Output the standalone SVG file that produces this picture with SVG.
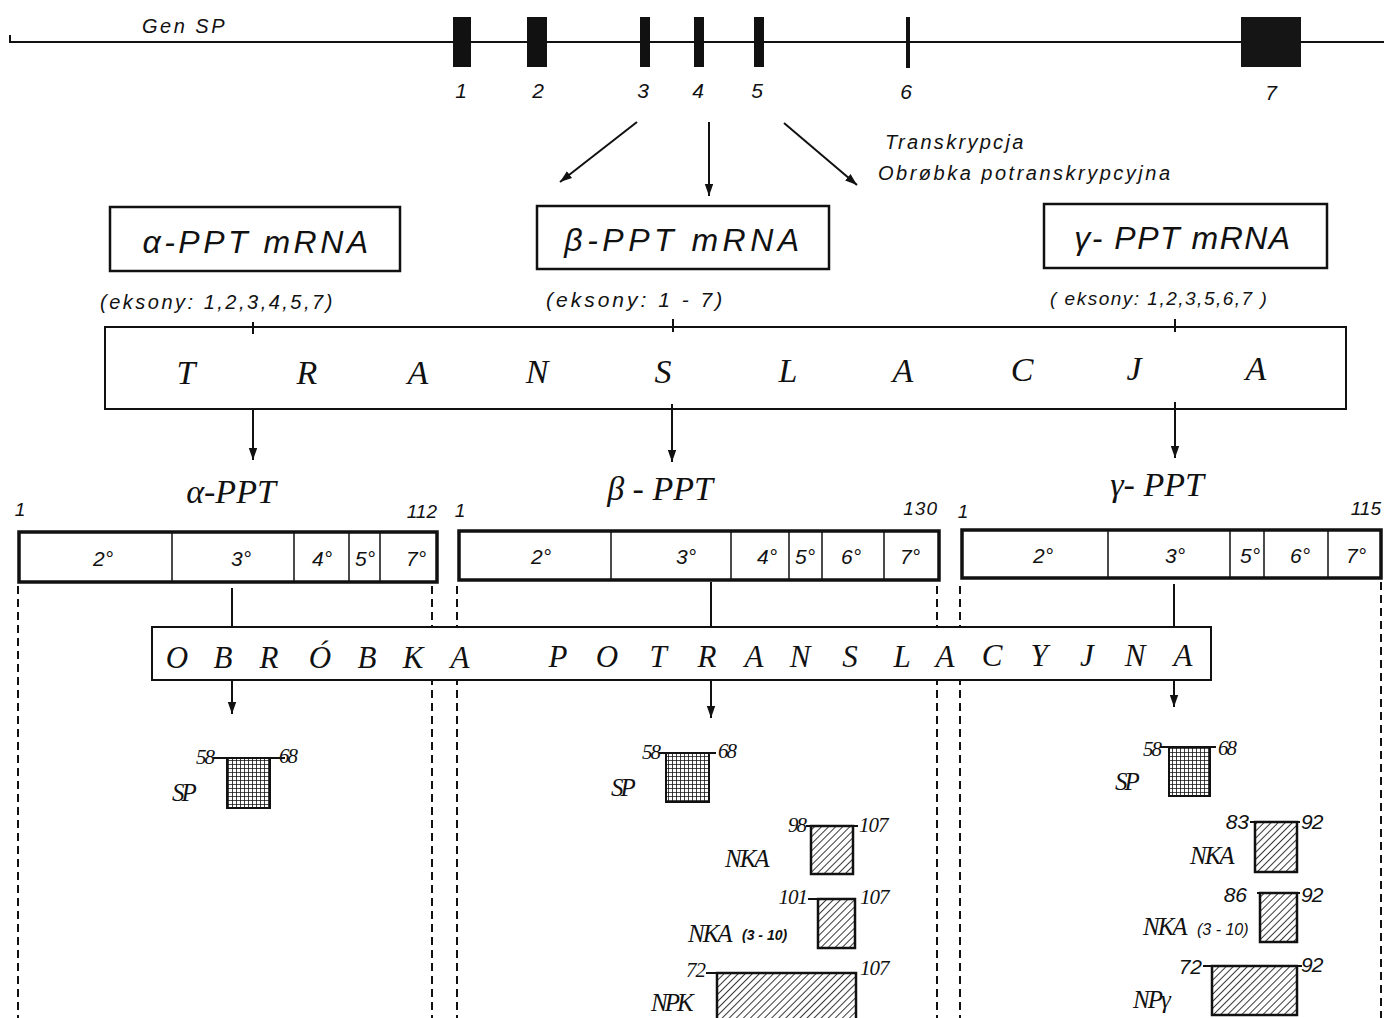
<svg xmlns="http://www.w3.org/2000/svg" width="1384" height="1018" viewBox="0 0 1384 1018">
<defs>
<style>
.ln{stroke:#111;stroke-width:2;fill:none}
.box{stroke:#111;stroke-width:2.5;fill:#fff}
.bar{stroke:#111;stroke-width:3.5;fill:#fff}
.div{stroke:#111;stroke-width:1.5}
.dash{stroke:#111;stroke-width:2;stroke-dasharray:8 5;fill:none}
.ex{fill:#111}
.s{font-family:"Liberation Sans",Arial,sans-serif;font-style:italic;fill:#111}
.r{font-family:"Liberation Serif","Times New Roman",serif;font-style:italic;fill:#111}
</style>
<marker id="ah" viewBox="0 0 10 10" refX="10" refY="5" markerWidth="12" markerHeight="12" markerUnits="userSpaceOnUse" orient="auto">
<path d="M0,1.5 L10,5 L0,8.5 Z" fill="#111"/>
</marker>
<pattern id="grid" width="4" height="4" patternUnits="userSpaceOnUse">
<rect width="4" height="4" fill="#fff"/>
<path d="M0,0 H4 M0,0 V4" stroke="#111" stroke-width="1.6"/>
</pattern>
<pattern id="hatch" width="5" height="5" patternUnits="userSpaceOnUse" patternTransform="rotate(45)">
<rect width="5" height="5" fill="#fff"/>
<path d="M0,0 V5" stroke="#222" stroke-width="1.8"/>
</pattern>
</defs>
<rect width="1384" height="1018" fill="#fff"/>

<g id="gene">
<line x1="10" y1="42" x2="1384" y2="42" class="ln"/>
<line x1="10" y1="35" x2="10" y2="43" class="ln"/>
<text x="142" y="33" class="s" font-size="20" letter-spacing="2.5">Gen SP</text>
<rect x="453" y="17" width="18" height="50" class="ex"/>
<rect x="527" y="17" width="20" height="50" class="ex"/>
<rect x="640" y="17" width="10" height="50" class="ex"/>
<rect x="694" y="17" width="10" height="50" class="ex"/>
<rect x="754" y="17" width="10" height="50" class="ex"/>
<rect x="906" y="17" width="4" height="51" class="ex"/>
<rect x="1241" y="17" width="60" height="50" fill="#151515"/>
<g class="s" font-size="21" text-anchor="middle">
<text x="461" y="98">1</text><text x="538" y="98">2</text><text x="643" y="98">3</text>
<text x="698" y="98">4</text><text x="757" y="98">5</text><text x="906" y="99">6</text>
<text x="1271" y="100">7</text>
</g>
<text x="885" y="149" class="s" font-size="20" letter-spacing="2.3">Transkrypcja</text>
<text x="878" y="180" class="s" font-size="20" letter-spacing="2.5">Obrøbka potranskrypcyjna</text>
</g>

<g id="mrna-alpha">
<rect x="110" y="207" width="290" height="64" class="box"/>
<text x="257" y="253" class="s" font-size="32" text-anchor="middle" letter-spacing="3.5">α-PPT mRNA</text>
<text x="100" y="309" class="s" font-size="20" letter-spacing="2.5">(eksony: 1,2,3,4,5,7)</text>
</g>
<g id="mrna-beta">
<rect x="537" y="206" width="292" height="63" class="box"/>
<text x="684" y="251" class="s" font-size="32" text-anchor="middle" letter-spacing="4.5">β-PPT  mRNA</text>
<text x="546" y="307" class="s" font-size="21" letter-spacing="3">(eksony: 1 - 7)</text>
</g>
<g id="mrna-gamma">
<rect x="1044" y="204" width="283" height="64" class="box"/>
<text x="1183" y="249" class="s" font-size="32" text-anchor="middle" letter-spacing="1.5">γ- PPT mRNA</text>
<text x="1050" y="305" class="s" font-size="19" letter-spacing="1.5">( eksony: 1,2,3,5,6,7 )</text>
</g>

<g id="translacja">
<rect x="105" y="327" width="1241" height="82" fill="#fff" stroke="#111" stroke-width="2"/>
<g class="r" font-size="34" text-anchor="middle">
<text x="186" y="384">T</text><text x="307" y="384">R</text><text x="418" y="384">A</text>
<text x="537" y="383">N</text><text x="663" y="383">S</text><text x="788" y="382">L</text>
<text x="903" y="382">A</text><text x="1022" y="381">C</text><text x="1134" y="380">J</text>
<text x="1256" y="380">A</text>
</g>
</g>

<g id="ppt-alpha">
<text x="231" y="503" class="r" font-size="34" text-anchor="middle">α-PPT</text>
<text x="20" y="516" class="s" font-size="19" text-anchor="middle">1</text>
<text x="437" y="518" class="s" font-size="19" text-anchor="end">112</text>
<rect x="19" y="532" width="418" height="50" class="bar"/>
<path d="M172,532V582M294,532V582M349,532V582M380,532V582" class="div"/>
<g class="s" font-size="21" text-anchor="middle">
<text x="103" y="566">2°</text><text x="241" y="566">3°</text><text x="322" y="566">4°</text>
<text x="365" y="566">5°</text><text x="416" y="566">7°</text>
</g>
</g>
<g id="ppt-beta">
<text x="660" y="500" class="r" font-size="34" text-anchor="middle">β - PPT</text>
<text x="460" y="517" class="s" font-size="19" text-anchor="middle">1</text>
<text x="938" y="515" class="s" font-size="19" text-anchor="end" letter-spacing="1">130</text>
<rect x="459" y="531" width="480" height="49" class="bar"/>
<path d="M611,531V580M731,531V580M789,531V580M822,531V580M884,531V580" class="div"/>
<g class="s" font-size="21" text-anchor="middle">
<text x="541" y="564">2°</text><text x="686" y="564">3°</text><text x="767" y="564">4°</text>
<text x="805" y="564">5°</text><text x="851" y="564">6°</text><text x="910" y="564">7°</text>
</g>
</g>
<g id="ppt-gamma">
<text x="1157" y="496" class="r" font-size="34" text-anchor="middle">γ- PPT</text>
<text x="963" y="518" class="s" font-size="19" text-anchor="middle">1</text>
<text x="1381" y="515" class="s" font-size="19" text-anchor="end">115</text>
<rect x="962" y="530" width="419" height="48" class="bar"/>
<path d="M1108,530V578M1230,530V578M1264,530V578M1328,530V578" class="div"/>
<g class="s" font-size="21" text-anchor="middle">
<text x="1043" y="563">2°</text><text x="1175" y="563">3°</text><text x="1250" y="563">5°</text>
<text x="1300" y="563">6°</text><text x="1356" y="563">7°</text>
</g>
</g>

<g id="dashed">
<path d="M18,586V1018M432,586V1018M457,586V1018M937,586V1018M960,586V1018M1381,582V1018" class="dash"/>
</g>

<g id="obrobka">
<rect x="152" y="627" width="1059" height="53" fill="#fff" stroke="#111" stroke-width="2"/>
<g class="r" font-size="31" text-anchor="middle">
<text x="177" y="668">O</text><text x="223" y="668">B</text><text x="269" y="668">R</text>
<text x="320" y="668">Ó</text><text x="367" y="668">B</text><text x="413" y="668">K</text>
<text x="460" y="668">A</text><text x="558" y="667">P</text><text x="607" y="667">O</text>
<text x="658" y="667">T</text><text x="707" y="667">R</text><text x="754" y="667">A</text>
<text x="800" y="667">N</text><text x="850" y="667">S</text><text x="902" y="667">L</text>
<text x="945" y="667">A</text><text x="992" y="666">C</text><text x="1039" y="666">Y</text>
<text x="1087" y="666">J</text><text x="1135" y="666">N</text><text x="1183" y="666">A</text>
</g>
</g>

<g id="connectors">
<line x1="637" y1="122" x2="560" y2="182" class="ln" marker-end="url(#ah)"/>
<line x1="709" y1="122" x2="709" y2="196" class="ln" marker-end="url(#ah)"/>
<line x1="784" y1="123" x2="857" y2="185" class="ln" marker-end="url(#ah)"/>
<line x1="253" y1="322" x2="253" y2="334" class="ln"/>
<line x1="673" y1="319" x2="673" y2="332" class="ln"/>
<line x1="1175" y1="319" x2="1175" y2="332" class="ln"/>
<line x1="253" y1="410" x2="253" y2="460" class="ln" marker-end="url(#ah)"/>
<line x1="672" y1="404" x2="672" y2="462" class="ln" marker-end="url(#ah)"/>
<line x1="1175" y1="402" x2="1175" y2="458" class="ln" marker-end="url(#ah)"/>
<line x1="232" y1="588" x2="232" y2="627" class="ln"/>
<line x1="711" y1="582" x2="711" y2="627" class="ln"/>
<line x1="1174" y1="584" x2="1174" y2="627" class="ln"/>
<line x1="232" y1="681" x2="232" y2="714" class="ln" marker-end="url(#ah)"/>
<line x1="711" y1="681" x2="711" y2="718" class="ln" marker-end="url(#ah)"/>
<line x1="1174" y1="681" x2="1174" y2="707" class="ln" marker-end="url(#ah)"/>
</g>

<g id="sp-alpha">
<rect x="227" y="758" width="43" height="50" fill="url(#grid)" stroke="#111" stroke-width="2"/>
<line x1="213" y1="758" x2="285" y2="758" class="ln"/>
<text x="213" y="764" class="r" font-size="21" text-anchor="end" letter-spacing="-2">58</text>
<text x="279" y="763" class="r" font-size="21" letter-spacing="-2">68</text>
<text x="172" y="801" class="r" font-size="25" letter-spacing="-3">SP</text>
</g>

<g id="sp-beta">
<rect x="666" y="753" width="43" height="49" fill="url(#grid)" stroke="#111" stroke-width="2"/>
<line x1="659" y1="753" x2="716" y2="753" class="ln"/>
<text x="659" y="759" class="r" font-size="21" text-anchor="end" letter-spacing="-2">58</text>
<text x="718" y="758" class="r" font-size="21" letter-spacing="-2">68</text>
<text x="611" y="796" class="r" font-size="25" letter-spacing="-3">SP</text>
</g>
<g id="nka-beta">
<rect x="811" y="826" width="42" height="48" fill="url(#hatch)" stroke="#111" stroke-width="2.5"/>
<line x1="806" y1="826" x2="858" y2="826" class="ln"/>
<text x="805" y="832" class="r" font-size="21" text-anchor="end" letter-spacing="-2">98</text>
<text x="859" y="832" class="r" font-size="21" letter-spacing="-1">107</text>
<text x="725" y="867" class="r" font-size="25" letter-spacing="-2">NKA</text>
</g>
<g id="nka310-beta">
<rect x="818" y="899" width="37" height="49" fill="url(#hatch)" stroke="#111" stroke-width="2.5"/>
<line x1="808" y1="899" x2="855" y2="899" class="ln"/>
<text x="807" y="904" class="r" font-size="21" text-anchor="end" letter-spacing="-1">101</text>
<text x="860" y="904" class="r" font-size="21" letter-spacing="-1">107</text>
<text x="688" y="942" class="r" font-size="25" letter-spacing="-2">NKA</text>
<text x="742" y="940" class="s" font-size="14" font-weight="bold">(3 - 10)</text>
</g>
<g id="npk-beta">
<rect x="717" y="973" width="139" height="50" fill="url(#hatch)" stroke="#111" stroke-width="2.5"/>
<line x1="706" y1="973" x2="856" y2="973" class="ln"/>
<text x="705" y="977" class="r" font-size="21" text-anchor="end" letter-spacing="-1">72</text>
<text x="860" y="975" class="r" font-size="21" letter-spacing="-1">107</text>
<text x="651" y="1011" class="r" font-size="25" letter-spacing="-3">NPK</text>
</g>

<g id="sp-gamma">
<rect x="1169" y="747" width="41" height="49" fill="url(#grid)" stroke="#111" stroke-width="2"/>
<line x1="1160" y1="747" x2="1216" y2="747" class="ln"/>
<text x="1160" y="756" class="r" font-size="21" text-anchor="end" letter-spacing="-2">58</text>
<text x="1218" y="755" class="r" font-size="21" letter-spacing="-2">68</text>
<text x="1115" y="790" class="r" font-size="25" letter-spacing="-3">SP</text>
</g>
<g id="nka-gamma">
<rect x="1255" y="822" width="42" height="50" fill="url(#hatch)" stroke="#111" stroke-width="2.5"/>
<line x1="1250" y1="822" x2="1300" y2="822" class="ln"/>
<text x="1249" y="829" class="s" font-size="21" text-anchor="end">83</text>
<text x="1301" y="829" class="s" font-size="21" letter-spacing="-1">92</text>
<text x="1190" y="864" class="r" font-size="25" letter-spacing="-2">NKA</text>
</g>
<g id="nka310-gamma">
<rect x="1260" y="893" width="37" height="49" fill="url(#hatch)" stroke="#111" stroke-width="2.5"/>
<line x1="1257" y1="893" x2="1300" y2="893" class="ln"/>
<text x="1247" y="902" class="s" font-size="21" text-anchor="end">86</text>
<text x="1301" y="902" class="s" font-size="21" letter-spacing="-1">92</text>
<text x="1143" y="935" class="r" font-size="25" letter-spacing="-2">NKA</text>
<text x="1197" y="935" class="s" font-size="16">(3 - 10)</text>
</g>
<g id="npg-gamma">
<rect x="1212" y="966" width="85" height="49" fill="url(#hatch)" stroke="#111" stroke-width="2.5"/>
<line x1="1203" y1="966" x2="1302" y2="966" class="ln"/>
<text x="1202" y="974" class="s" font-size="21" text-anchor="end">72</text>
<text x="1301" y="972" class="s" font-size="21" letter-spacing="-1">92</text>
<text x="1133" y="1008" class="r" font-size="25" letter-spacing="-2">NPγ</text>
</g>
</svg>
